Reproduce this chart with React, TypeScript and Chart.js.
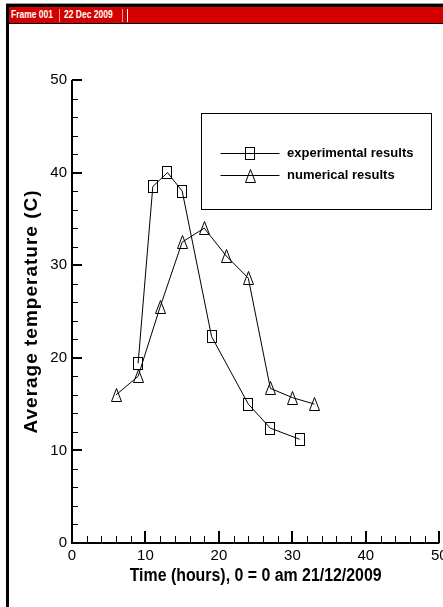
import React, { useEffect, useRef } from "react";
import { Chart, registerables } from "chart.js";

Chart.register(...registerables);

// Measured averages, hours after midnight on 21/12/2009
const hoursExperimental = [9, 11, 13, 15, 19, 24, 27, 31];
const tempExperimental = [19.4, 38.5, 40, 38, 22.3, 15, 12.4, 11.2];

const hoursNumerical = [6, 9, 12, 15, 18, 21, 24, 27, 30, 33];
const tempNumerical = [16, 18, 25.5, 32.5, 34, 31, 28.6, 16.7, 15.7, 15];

const seriesLabels = ["experimental results", "numerical results"];
const xTickValues = [0, 10, 20, 30, 40, 50];
const yTickValues = [0, 10, 20, 30, 40, 50];
const xTitle = "Time (hours), 0 = 0 am 21/12/2009";
const yTitle = "Average temperature (C)";
const headerItems = ["Frame 001", "22 Dec 2009"];

const FONT = '"Liberation Sans", Arial, Helvetica, sans-serif';

function makeSquareMarker(): HTMLCanvasElement {
  const c = document.createElement("canvas");
  c.width = 10;
  c.height = 13;
  const g = c.getContext("2d")!;
  g.strokeStyle = "#000";
  g.lineWidth = 1;
  g.strokeRect(0.5, 0.5, 9, 12);
  return c;
}

function makeTriangleMarker(): HTMLCanvasElement {
  const c = document.createElement("canvas");
  c.width = 11;
  c.height = 14;
  const g = c.getContext("2d")!;
  g.strokeStyle = "#000";
  g.lineWidth = 1;
  g.beginPath();
  g.moveTo(5.5, 0.5);
  g.lineTo(10.5, 13.5);
  g.lineTo(0.5, 13.5);
  g.closePath();
  g.stroke();
  return c;
}

// Tecplot-style frame: inward ticks, axis lines, symbols, titles and a boxed legend
const tecplotAxesPlugin = {
  id: "tecplotAxes",
  afterDatasetsDraw(chart: any) {
    const { ctx, chartArea: a, scales } = chart;
    const xs = scales.x;
    const ys = scales.y;
    ctx.save();
    ctx.strokeStyle = "#000";
    ctx.fillStyle = "#000";

    // hollow symbols on pixel-aligned positions
    chart.data.datasets.forEach((ds: any, i: number) => {
      const img = ds.symbol as HTMLCanvasElement;
      const meta = chart.getDatasetMeta(i);
      meta.data.forEach((el: any) => {
        ctx.drawImage(img, Math.round(el.x - img.width / 2), Math.round(el.y - img.height / 2));
      });
    });

    // axis lines
    ctx.lineWidth = 2;
    ctx.beginPath();
    ctx.moveTo(a.left, a.top);
    ctx.lineTo(a.left, a.bottom);
    ctx.lineTo(a.right, a.bottom);
    ctx.stroke();

    // inward ticks, 4 minors between majors
    const xMinor = (xTickValues[1] - xTickValues[0]) / 5;
    const xMax = xTickValues[xTickValues.length - 1];
    for (let i = 1; i * xMinor <= xMax + 1e-9; i++) {
      const v = i * xMinor;
      const major = i % 5 === 0;
      const px = Math.round(xs.getPixelForValue(v)) + (major ? 0 : 0.5);
      ctx.lineWidth = major ? 2 : 1;
      ctx.beginPath();
      ctx.moveTo(px, a.bottom);
      ctx.lineTo(px, a.bottom - (major ? 12 : 7));
      ctx.stroke();
    }
    const yMinor = (yTickValues[1] - yTickValues[0]) / 5;
    const yMax = yTickValues[yTickValues.length - 1];
    for (let i = 1; i * yMinor <= yMax + 1e-9; i++) {
      const v = i * yMinor;
      const major = i % 5 === 0;
      const py = Math.round(ys.getPixelForValue(v)) + (major ? 0 : 0.5);
      ctx.lineWidth = major ? 2 : 1;
      ctx.beginPath();
      ctx.moveTo(a.left, py);
      ctx.lineTo(a.left + (major ? 10 : 6), py);
      ctx.stroke();
    }

    // x-axis title (condensed bold)
    ctx.font = `bold 18px ${FONT}`;
    ctx.textAlign = "center";
    ctx.textBaseline = "alphabetic";
    const w = ctx.measureText(xTitle).width;
    ctx.save();
    ctx.translate((a.left + a.right) / 2, 581);
    ctx.scale(252 / w, 1);
    ctx.fillText(xTitle, 0, 0);
    ctx.restore();

    // y-axis title, rotated, letter-spaced
    ctx.save();
    ctx.font = `bold 19px ${FONT}`;
    (ctx as any).letterSpacing = "1px";
    ctx.translate(37, (a.top + a.bottom) / 2);
    ctx.rotate(-Math.PI / 2);
    ctx.textAlign = "center";
    ctx.textBaseline = "alphabetic";
    ctx.fillText(yTitle, 0, 0);
    ctx.restore();

    // legend box
    const lx = 201.5;
    const ly = 113.5;
    ctx.fillStyle = "#fff";
    ctx.fillRect(lx, ly, 230, 96);
    ctx.lineWidth = 1;
    ctx.strokeStyle = "#000";
    ctx.strokeRect(lx, ly, 230, 96);
    const rows = [153.5, 175.5];
    chart.data.datasets.forEach((ds: any, i: number) => {
      const ry = rows[i];
      ctx.beginPath();
      ctx.moveTo(220.5, ry);
      ctx.lineTo(279.5, ry);
      ctx.stroke();
      const img = ds.symbol as HTMLCanvasElement;
      ctx.drawImage(img, Math.round(250 - img.width / 2), Math.round(ry - img.height / 2));
      ctx.fillStyle = "#000";
      ctx.font = `bold 13px ${FONT}`;
      ctx.textAlign = "left";
      ctx.textBaseline = "middle";
      ctx.fillText(ds.label, 287, ry);
    });

    ctx.restore();
  },
};

export default function App() {
  const canvasRef = useRef<HTMLCanvasElement | null>(null);

  useEffect(() => {
    const canvas = canvasRef.current;
    if (!canvas) return;
    const square = makeSquareMarker();
    const triangle = makeTriangleMarker();

    const chart = new Chart(canvas, {
      type: "scatter",
      data: {
        datasets: [
          {
            label: seriesLabels[0],
            data: hoursExperimental.map((h, i) => ({ x: h, y: tempExperimental[i] })),
            showLine: true,
            borderColor: "#000",
            borderWidth: 1,
            tension: 0,
            pointRadius: 0,
            symbol: square,
          } as any,
          {
            label: seriesLabels[1],
            data: hoursNumerical.map((h, i) => ({ x: h, y: tempNumerical[i] })),
            showLine: true,
            borderColor: "#000",
            borderWidth: 1,
            tension: 0,
            pointRadius: 0,
            symbol: triangle,
          } as any,
        ],
      },
      options: {
        animation: false,
        responsive: false,
        maintainAspectRatio: false,
        devicePixelRatio: 1,
        layout: { padding: { top: 80, right: 3.7, bottom: 0, left: 0 } },
        plugins: {
          legend: { display: false },
          tooltip: { enabled: false },
        },
        scales: {
          x: {
            type: "linear",
            min: xTickValues[0],
            max: xTickValues[xTickValues.length - 1],
            grid: { display: false, drawTicks: false },
            border: { display: false },
            afterBuildTicks: (s: any) => {
              s.ticks = xTickValues.map((v) => ({ value: v }));
            },
            ticks: {
              color: "#000",
              font: { family: FONT, size: 15 },
              padding: 4,
              maxRotation: 0,
              autoSkip: false,
            },
            afterFit: (s: any) => {
              s.height = 64;
              s.paddingLeft = 0;
              s.paddingRight = 0;
            },
          },
          y: {
            type: "linear",
            min: yTickValues[0],
            max: yTickValues[yTickValues.length - 1],
            grid: { display: false, drawTicks: false },
            border: { display: false },
            afterBuildTicks: (s: any) => {
              s.ticks = yTickValues.map((v) => ({ value: v }));
            },
            ticks: {
              color: "#000",
              font: { family: FONT, size: 15 },
              padding: 5,
              autoSkip: false,
            },
            afterFit: (s: any) => {
              s.width = 72;
              s.paddingTop = 0;
              s.paddingBottom = 0;
            },
          },
        },
      },
      plugins: [tecplotAxesPlugin],
    });

    return () => chart.destroy();
  }, []);

  return (
    <div
      style={{
        position: "fixed",
        left: 0,
        top: 0,
        width: 443,
        height: 607,
        overflow: "hidden",
        background: "#fff",
      }}
    >
      {/* frame border */}
      <div
        style={{
          position: "absolute",
          left: 6,
          top: 3,
          width: 460,
          height: 620,
          borderTop: "1px solid #999",
        }}
      />
      <div
        style={{
          position: "absolute",
          left: 6,
          top: 4,
          width: 460,
          height: 620,
          borderLeft: "3px solid #000",
          borderTop: "3px solid #000",
        }}
      />
      {/* header strip */}
      <div
        style={{
          position: "absolute",
          left: 9,
          top: 7,
          width: 440,
          height: 16,
          background: "#d40000",
          borderBottom: "1px solid #000",
          fontFamily: FONT,
          fontWeight: "bold",
          fontSize: 10,
          color: "#fff",
          whiteSpace: "nowrap",
        }}
      >
        <span style={{ position: "absolute", left: 2, top: 2, display: "inline-block", transform: "scaleX(0.85)", transformOrigin: "left" }}>
          {headerItems[0]}
        </span>
        <span style={{ position: "absolute", left: 50, top: 2, width: 1, height: 13, background: "#f2a0a0" }} />
        <span style={{ position: "absolute", left: 55, top: 2, display: "inline-block", transform: "scaleX(0.85)", transformOrigin: "left" }}>
          {headerItems[1]}
        </span>
        <span style={{ position: "absolute", left: 113, top: 2, width: 1, height: 13, background: "#f2a0a0" }} />
        <span style={{ position: "absolute", left: 118, top: 2, width: 1, height: 13, background: "#ffffff" }} />
      </div>
      <canvas
        ref={canvasRef}
        width={443}
        height={607}
        style={{ position: "absolute", left: 0, top: 0, width: 443, height: 607, display: "block" }}
      />
    </div>
  );
}
